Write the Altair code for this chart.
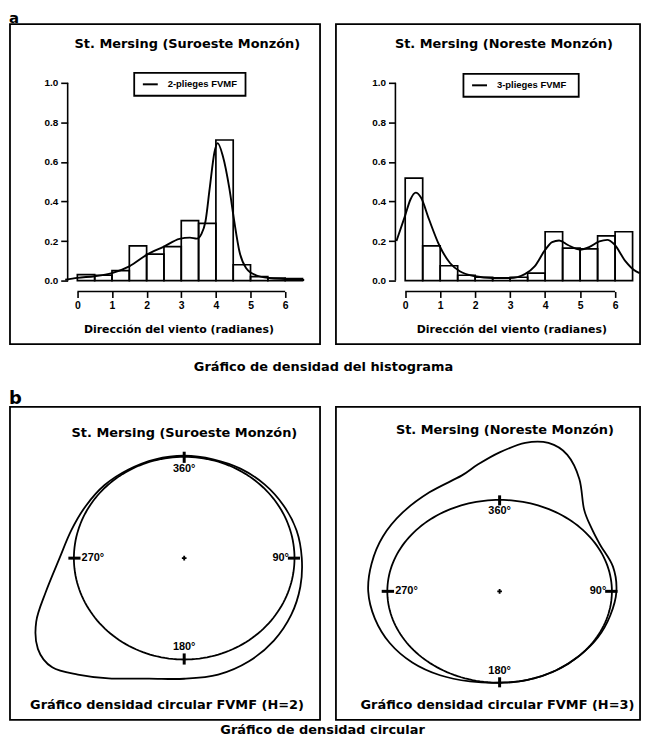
import altair as alt
import pandas as pd

# ---------------- data ----------------
BIN_LEFT = [0.0, 0.5, 1.0, 1.5, 2.0, 2.5, 3.0, 3.5, 4.0, 4.5, 5.0, 5.5, 6.0]
BIN_WIDTH = 0.5
HIST_SW = [0.030, 0.027, 0.050, 0.176, 0.134, 0.172, 0.303, 0.289, 0.711, 0.080, 0.020, 0.013, 0.010]
HIST_NE = [0.518, 0.176, 0.075, 0.027, 0.017, 0.013, 0.017, 0.038, 0.247, 0.164, 0.160, 0.226, 0.247]

DENS_SW_X = [-0.35, 0.0, 0.5, 1.0, 1.5, 2.0, 2.5, 2.95, 3.25, 3.45, 3.58, 3.70, 3.82, 3.96, 4.05,
             4.20, 4.39, 4.53, 4.68, 4.87, 5.16, 5.54, 6.00, 6.55]
DENS_SW_Y = [0.004, 0.014, 0.022, 0.038, 0.072, 0.130, 0.172, 0.211, 0.217, 0.212, 0.235, 0.300,
             0.465, 0.650, 0.695, 0.630, 0.465, 0.300, 0.147, 0.064, 0.027, 0.013, 0.008, 0.003]

DENS_NE_X = [-0.25, 0.0, 0.15, 0.30, 0.45, 0.68, 0.97, 1.28, 1.56, 2.00, 2.49, 3.00, 3.42, 3.70,
             4.00, 4.20, 4.40, 4.65, 5.00, 5.27, 5.55, 5.78, 5.97, 6.30, 6.53, 6.70]
DENS_NE_Y = [0.200, 0.330, 0.410, 0.445, 0.420, 0.310, 0.180, 0.089, 0.047, 0.022, 0.013, 0.013,
             0.033, 0.072, 0.155, 0.195, 0.203, 0.180, 0.156, 0.170, 0.198, 0.206, 0.185, 0.097,
             0.055, 0.038]

CIRC_SW_DEG = [0, 15, 30, 45, 60, 75, 90, 105, 120, 135, 150, 165, 180, 195, 210, 220, 228, 236,
               245, 255, 270, 285, 300, 315, 330, 345]
CIRC_SW_R = [1.01, 1.01, 1.02, 1.03, 1.04, 1.055, 1.066, 1.09, 1.12, 1.15, 1.175, 1.19, 1.19, 1.23,
             1.37, 1.50, 1.61, 1.60, 1.48, 1.30, 1.13, 1.06, 1.03, 1.02, 1.01, 1.01]

CIRC_NE_DEG = [0, 8, 15, 22, 30, 40, 50, 60, 75, 90, 105, 120, 135, 150, 165, 180, 195, 210, 225,
               240, 255, 270, 285, 300, 315, 330, 345, 352]
CIRC_NE_R = [1.52, 1.64, 1.68, 1.61, 1.42, 1.17, 1.07, 1.03, 1.045, 1.04, 1.02, 1.01, 1.0, 1.0, 1.0,
             1.0, 1.02, 1.06, 1.10, 1.13, 1.15, 1.17, 1.18, 1.20, 1.22, 1.25, 1.31, 1.40]

X_TICKS = [0, 1, 2, 3, 4, 5, 6]
Y_TICKS = [0.0, 0.2, 0.4, 0.6, 0.8, 1.0]
CARD_DEG = [0, 90, 180, 270]
CARD_LABELS = ["360°", "90°", "180°", "270°"]

TITLE_SW = "St. Mersing (Suroeste Monzón)"
TITLE_NE = "St. Mersing (Noreste Monzón)"
LEGEND_SW = "2-plieges FVMF"
LEGEND_NE = "3-plieges FVMF"
XLAB = "Dirección del viento (radianes)"
CAPTION_SW = "Gráfico densidad circular FVMF (H=2)"
CAPTION_NE = "Gráfico densidad circular FVMF (H=3)"
ROW_CAPTION_A = "Gráfico de densidad del histograma"
ROW_CAPTION_B = "Gráfico de densidad circular"

# ---------------- layout / style (page pixels) ----------------
FONT_T = "DejaVu Sans"
FONT_R = "Liberation Sans"
DX = -4                              # whole figure nudged left to fit the 637px content width
FW_L, FW_R = 312, 306                # frame widths of left / right column
LEFT_FL, RIGHT_FL = 9, 337           # frame left edges
TOP_FT, TOP_FB = 21, 343             # top-row frame top / bottom
BOT_FT, BOT_FB = 406, 721            # bottom-row frame top / bottom
FH_TOP = TOP_FB - TOP_FT
FH_BOT = BOT_FB - BOT_FT
COL_GAP = RIGHT_FL - (LEFT_FL + FW_L)
ROW_GAP = BOT_FT - TOP_FB
KY = 199.0            # px per density unit (top panels)
Y1_PAGE = 80.0        # page y of density 1.0
AXIS_X0 = -0.28       # where the y axis line sits (radians)
AXIS_Y0 = -0.055      # where the x axis line sits (density)
TICK_IN, TICK_OUT = 0.94, 1.05
LAB_RV, LAB_RH_R, LAB_RH_L = 0.875, 0.95, 0.93


def text_layer(text, x, y, size, font=FONT_T, align="center", baseline="middle"):
    return alt.Chart(pd.DataFrame({"t": [text]})).mark_text(
        font=font, fontSize=size, fontWeight="bold", align=align, baseline=baseline, color="black"
    ).encode(text="t:N", x=alt.value(x), y=alt.value(y))


def legend_layers(label, lx, ly, lw, lh):
    df = pd.DataFrame({"t": [label]})
    box = alt.Chart(df).mark_rect(fill="white", stroke="black", strokeWidth=1.8).encode(
        x=alt.value(lx), x2=alt.value(lx + lw), y=alt.value(ly), y2=alt.value(ly + lh))
    line = alt.Chart(df).mark_rule(color="black", strokeWidth=2).encode(
        x=alt.value(lx + 8.7), x2=alt.value(lx + 23.7), y=alt.value(ly + lh / 2))
    txt = alt.Chart(df).mark_text(font=FONT_R, fontSize=9.5, fontWeight="bold", align="left",
                                  baseline="middle", color="black").encode(
        text="t:N", x=alt.value(lx + 33.7), y=alt.value(ly + lh / 2))
    return [box, line, txt]


def hist_panel(fl, fw, hist, dens_x, dens_y, title, title_px, leg, leg_page, leg_w, k, x0_page,
               xlab_px, extra):
    xl = (fl - x0_page) / k
    xr = xl + fw / k
    yt = 1 + (Y1_PAGE - TOP_FT) / KY
    yb = yt - FH_TOP / KY
    y_off = -(AXIS_X0 - xl) * k
    x_off = -(AXIS_Y0 - yb) * KY
    xs = alt.Scale(domain=[xl, xr], nice=False, zero=False)
    ys = alt.Scale(domain=[yb, yt], nice=False, zero=False)
    x_axis = alt.Axis(values=X_TICKS, domain=False, grid=False, tickSize=6, tickWidth=1.6,
                      tickColor="black", labelFont=FONT_R, labelFontWeight="bold",
                      labelFontSize=10.5, labelColor="black", labelPadding=3, labelFlush=False,
                      offset=x_off, title=XLAB, titleFont=FONT_T, titleFontSize=11,
                      titleFontWeight="bold", titleColor="black", titleX=xlab_px - fl, titleY=38,
                      titleBaseline="middle")
    y_axis = alt.Axis(values=Y_TICKS, format=".1f", domain=False, grid=False, tickSize=7,
                      tickWidth=1.6, tickColor="black", labelFont=FONT_R, labelFontWeight="bold",
                      labelFontSize=10, labelColor="black", labelPadding=3, labelFlush=False,
                      offset=y_off, title=None)

    def X(f):
        return alt.X(f, type="quantitative", scale=xs, axis=x_axis)

    def Y(f):
        return alt.Y(f, type="quantitative", scale=ys, axis=y_axis)

    bars = alt.Chart(pd.DataFrame({"x": BIN_LEFT, "x2": [b + BIN_WIDTH for b in BIN_LEFT],
                                   "y": hist})).mark_rect(
        fill="transparent", stroke="black", strokeWidth=1.7).encode(
        x=X("x"), x2="x2:Q", y=Y("y"), y2=alt.datum(0))
    curve = alt.Chart(pd.DataFrame({"x": dens_x, "y": dens_y})).mark_line(
        interpolate="monotone", color="black", strokeWidth=1.9).encode(x=X("x"), y=Y("y"))
    yline = alt.Chart(pd.DataFrame({"x": [AXIS_X0], "y": [min(Y_TICKS)], "y2": [max(Y_TICKS)]})).mark_rule(
        color="black", strokeWidth=1.6).encode(x=X("x"), y=Y("y"), y2="y2:Q")
    xline = alt.Chart(pd.DataFrame({"x": [min(X_TICKS)], "x2": [max(X_TICKS)], "y": [AXIS_Y0]})).mark_rule(
        color="black", strokeWidth=1.6).encode(x=X("x"), x2="x2:Q", y=Y("y"))
    layers = [bars, curve, yline, xline]
    layers += legend_layers(leg, leg_page[0] - fl, leg_page[1] - TOP_FT, leg_w, 23)
    layers.append(text_layer(title, title_px[0] - fl, title_px[1] - TOP_FT, 13))
    layers += extra
    return alt.layer(*layers).properties(width=fw, height=FH_TOP)


def circ_panel(fl, fw, deg, r, rx, ry, c_page, title, title_page, caption, cap_page, extra):
    xl = (fl - c_page[0]) / rx
    xr = xl + fw / rx
    yt = (c_page[1] - BOT_FT) / ry
    yb = yt - FH_BOT / ry
    xs = alt.Scale(domain=[xl, xr], nice=False, zero=False)
    ys = alt.Scale(domain=[yb, yt], nice=False, zero=False)

    def X(f):
        return alt.X(f, type="quantitative", scale=xs, axis=None)

    def Y(f):
        return alt.Y(f, type="quantitative", scale=ys, axis=None)

    circle = alt.Chart(alt.sequence(0, 360, 2, as_="deg")).transform_calculate(
        x="sin(datum.deg*PI/180)", y="cos(datum.deg*PI/180)").mark_line(
        interpolate="linear-closed", color="black", strokeWidth=1.8).encode(
        x=X("x"), y=Y("y"), order="deg:Q")
    dens = alt.Chart(pd.DataFrame({"deg": deg, "r": r})).transform_calculate(
        x="datum.r*sin(datum.deg*PI/180)", y="datum.r*cos(datum.deg*PI/180)").mark_line(
        interpolate="cardinal-closed", color="black", strokeWidth=1.8).encode(
        x=X("x"), y=Y("y"), order="deg:Q")
    ticks = alt.Chart(pd.DataFrame({"deg": CARD_DEG})).transform_calculate(
        x=f"{TICK_IN}*sin(datum.deg*PI/180)", y=f"{TICK_IN}*cos(datum.deg*PI/180)",
        x2=f"{TICK_OUT}*sin(datum.deg*PI/180)", y2=f"{TICK_OUT}*cos(datum.deg*PI/180)").mark_rule(
        color="black", strokeWidth=3).encode(x=X("x"), y=Y("y"), x2="x2:Q", y2="y2:Q")
    lab_df = pd.DataFrame({"deg": CARD_DEG, "lab": CARD_LABELS})
    lab_style = dict(font=FONT_R, fontSize=11, fontWeight="bold", color="black", baseline="middle")
    lab_v = alt.Chart(lab_df).transform_filter("datum.deg % 180 == 0").transform_calculate(
        x=f"{LAB_RV}*sin(datum.deg*PI/180)", y=f"{LAB_RV}*cos(datum.deg*PI/180)").mark_text(
        align="center", **lab_style).encode(x=X("x"), y=Y("y"), text="lab:N")
    lab_r = alt.Chart(lab_df).transform_filter("datum.deg == 90").transform_calculate(
        x=f"{LAB_RH_R}*sin(datum.deg*PI/180)", y="0").mark_text(
        align="right", **lab_style).encode(x=X("x"), y=Y("y"), text="lab:N")
    lab_l = alt.Chart(lab_df).transform_filter("datum.deg == 270").transform_calculate(
        x=f"{LAB_RH_L}*sin(datum.deg*PI/180)", y="0").mark_text(
        align="left", **lab_style).encode(x=X("x"), y=Y("y"), text="lab:N")
    center = alt.Chart(pd.DataFrame({"x": [0.0], "y": [0.0]})).mark_point(
        shape="cross", filled=True, size=22, color="black", opacity=1).encode(x=X("x"), y=Y("y"))
    layers = [circle, dens, ticks, lab_v, lab_r, lab_l, center,
              text_layer(title, title_page[0] - fl, title_page[1] - BOT_FT, 13),
              text_layer(caption, cap_page[0] - fl, cap_page[1] - BOT_FT, 13)] + extra
    return alt.layer(*layers).properties(width=fw, height=FH_BOT)


p1 = hist_panel(LEFT_FL, FW_L, HIST_SW, DENS_SW_X, DENS_SW_Y, TITLE_SW, (191.5 + DX, 40.5),
                LEGEND_SW, (138 + DX, 70), 112, 34.85, 80.8 + DX, 182.5 + DX,
                [text_layer("a", -1, 20 - TOP_FT, 15, align="left", baseline="alphabetic"),
                 text_layer(ROW_CAPTION_A, 328.5 + DX - LEFT_FL, 366 - TOP_FT, 13)])
p2 = hist_panel(RIGHT_FL, FW_R, HIST_NE, DENS_NE_X, DENS_NE_Y, TITLE_NE, (510 + DX, 40.5),
                LEGEND_NE, (469.3 + DX, 71), 116, 35.2, 410.7 + DX, 517.5 + DX, [])
p3 = circ_panel(LEFT_FL, FW_L, CIRC_SW_DEG, CIRC_SW_R, 111, 102, (188.3 + DX, 558.3), TITLE_SW,
                (188.5 + DX, 432), CAPTION_SW, (171 + DX, 706),
                [text_layer("b", -1, 403 - BOT_FT, 18, align="left", baseline="alphabetic"),
                 text_layer(ROW_CAPTION_B, 327.5 + DX - LEFT_FL, 731 - BOT_FT, 13)])
p4 = circ_panel(RIGHT_FL, FW_R, CIRC_NE_DEG, CIRC_NE_R, 113, 92, (505.7 + DX, 591.7), TITLE_NE,
                (511 + DX, 429), CAPTION_NE, (503.5 + DX, 706), [])

chart = alt.concat(p1, p2, p3, p4, columns=2, spacing={"row": ROW_GAP, "column": COL_GAP},
                   bounds="flush").properties(
    padding={"left": 0, "top": 0, "right": 0, "bottom": 0},
    background="white",
).configure_view(stroke="black", strokeWidth=1.8)

chart.save("out.html", embed_options={"renderer": "svg", "actions": False})
